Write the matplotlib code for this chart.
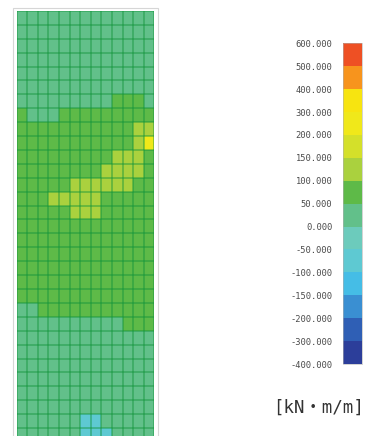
import matplotlib
matplotlib.use('Agg')
import matplotlib.pyplot as plt
from matplotlib.colors import ListedColormap, BoundaryNorm
from matplotlib.patches import Rectangle
import numpy as np

# colour scale (kN·m/m), bottom -> top
levels = [-400, -300, -200, -150, -100, -50, 0, 50, 100, 150, 200, 300, 400, 500, 600]
level_colors = ['#2c3e9a', '#2f5fb5', '#3a8fd2', '#45bde6', '#5ec9d2', '#6ccbbc',
                '#62c08a', '#5eba48', '#aad13e', '#d4e02a', '#f0e81a', '#f7e410',
                '#f7941d', '#ee5024']
unit_label = '[kN・m/m]'

# moment per cell, top row first (13 columns x 31 rows)
moment = [
    [25, 25, 25, 25, 25, 25, 25, 25, 25, 25, 25, 25, 25],
    [25, 25, 25, 25, 25, 25, 25, 25, 25, 25, 25, 25, 25],
    [25, 25, 25, 25, 25, 25, 25, 25, 25, 25, 25, 25, 25],
    [25, 25, 25, 25, 25, 25, 25, 25, 25, 25, 25, 25, 25],
    [25, 25, 25, 25, 25, 25, 25, 25, 25, 25, 25, 25, 25],
    [25, 25, 25, 25, 25, 25, 25, 25, 25, 25, 25, 25, 25],
    [25, 25, 25, 25, 25, 25, 25, 25, 25, 75, 75, 75, 25],
    [75, 25, 25, 25, 75, 75, 75, 75, 75, 75, 75, 75, 75],
    [75, 75, 75, 75, 75, 75, 75, 75, 75, 75, 75, 125, 125],
    [75, 75, 75, 75, 75, 75, 75, 75, 75, 75, 75, 125, 250],
    [75, 75, 75, 75, 75, 75, 75, 75, 75, 125, 125, 125, 75],
    [75, 75, 75, 75, 75, 75, 75, 75, 125, 125, 125, 125, 75],
    [75, 75, 75, 75, 75, 125, 125, 125, 125, 125, 125, 75, 75],
    [75, 75, 75, 125, 125, 125, 125, 125, 75, 75, 75, 75, 75],
    [75, 75, 75, 75, 75, 125, 125, 125, 75, 75, 75, 75, 75],
    [75, 75, 75, 75, 75, 75, 75, 75, 75, 75, 75, 75, 75],
    [75, 75, 75, 75, 75, 75, 75, 75, 75, 75, 75, 75, 75],
    [75, 75, 75, 75, 75, 75, 75, 75, 75, 75, 75, 75, 75],
    [75, 75, 75, 75, 75, 75, 75, 75, 75, 75, 75, 75, 75],
    [75, 75, 75, 75, 75, 75, 75, 75, 75, 75, 75, 75, 75],
    [75, 75, 75, 75, 75, 75, 75, 75, 75, 75, 75, 75, 75],
    [25, 25, 75, 75, 75, 75, 75, 75, 75, 75, 75, 75, 75],
    [25, 25, 25, 25, 25, 25, 25, 25, 25, 25, 75, 75, 75],
    [25, 25, 25, 25, 25, 25, 25, 25, 25, 25, 25, 25, 25],
    [25, 25, 25, 25, 25, 25, 25, 25, 25, 25, 25, 25, 25],
    [25, 25, 25, 25, 25, 25, 25, 25, 25, 25, 25, 25, 25],
    [25, 25, 25, 25, 25, 25, 25, 25, 25, 25, 25, 25, 25],
    [25, 25, 25, 25, 25, 25, 25, 25, 25, 25, 25, 25, 25],
    [25, 25, 25, 25, 25, 25, 25, 25, 25, 25, 25, 25, 25],
    [25, 25, 25, 25, 25, 25, -60, -60, 25, 25, 25, 25, 25],
    [25, 25, 25, 25, 25, 25, -60, -60, -60, 25, 25, 25, 25],
]

W, H = 375, 436
fig = plt.figure(figsize=(W / 100, H / 100), dpi=100)

data = np.array(moment, dtype=float)
nrows, ncols = data.shape
cmap = ListedColormap(level_colors)
norm = BoundaryNorm(levels, cmap.N)

# grid axes: top at y=11px, rows ~13.9px tall, last row clipped by the figure
cell_h = 13.9
gx0, gx1, gtop = 16.7, 154.3, 11
grid_h = nrows * cell_h
ax = fig.add_axes([gx0 / W, 1 - (gtop + grid_h) / H, (gx1 - gx0) / W, grid_h / H])
mesh = ax.pcolormesh(data, cmap=cmap, norm=norm)
ax.set_xlim(0, ncols)
ax.set_ylim(nrows, 0)
for k in range(ncols + 1):
    ax.axvline(k, color='#12943a', alpha=0.55, lw=1.1)
for k in range(nrows + 1):
    ax.axhline(k, color='#12943a', alpha=0.55, lw=1.1)
ax.set_axis_off()

# faint outer frame
fig.patches.append(Rectangle((12.5 / W, -0.05), (157.5 - 12.5) / W, 1.05 - 8.5 / H,
                             transform=fig.transFigure, fill=False,
                             edgecolor='#d6d6d6', lw=0.8))

# colour bar
cax = fig.add_axes([343.3 / W, 1 - 364 / H, 18.4 / W, (364 - 43.3) / H])
cb = fig.colorbar(mesh, cax=cax, ticks=levels, spacing='uniform')
cb.outline.set_linewidth(0.4)
cb.outline.set_edgecolor('#b0b0b0')
cax.yaxis.set_ticks_position('left')
cax.set_yticklabels([f'{v:.3f}' for v in levels])
cax.tick_params(length=0, pad=8, labelsize=6.3, labelcolor='#4a4a4a')
for t in cax.get_yticklabels():
    t.set_family('DejaVu Sans Mono')

fig.text(319 / W, 1 - 408 / H, unit_label, ha='center', va='center',
         fontsize=12.5, color='#333333',
         family=['DejaVu Sans Mono', 'Noto Sans CJK JP'])

fig.savefig('out.png', dpi=100)
